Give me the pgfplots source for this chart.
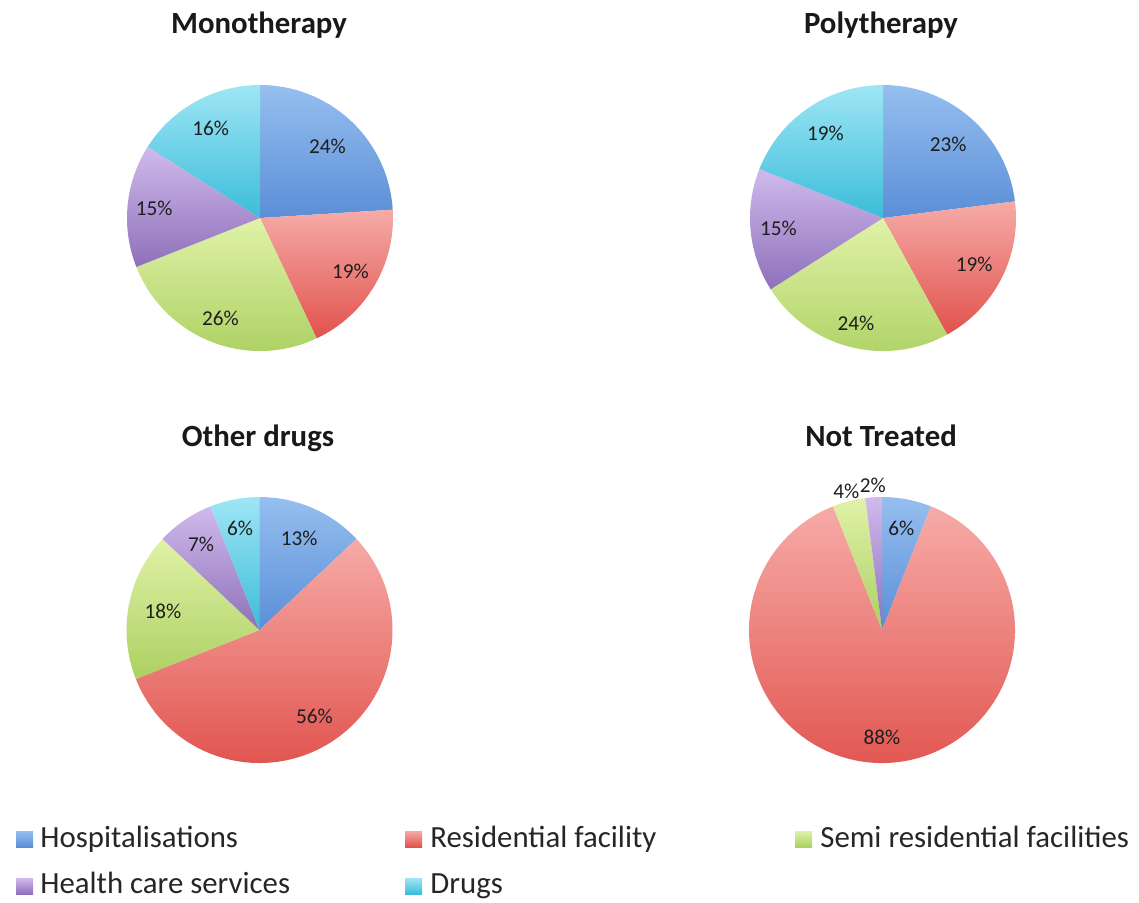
\documentclass[border=0pt]{standalone}
\usepackage{pgfplots}
\pgfplotsset{compat=1.18}
\usepackage{pgfplotstable}
\usepackage{fontspec}
\setmainfont{Carlito}

\definecolor{hospT}{HTML}{96BFF0}\definecolor{hospB}{HTML}{5A8ED6}
\definecolor{resT}{HTML}{F6ABA7}\definecolor{resB}{HTML}{E1524D}
\definecolor{semiT}{HTML}{E0F2A8}\definecolor{semiB}{HTML}{ACD062}
\definecolor{healT}{HTML}{D0BAEC}\definecolor{healB}{HTML}{8E70BA}
\definecolor{drugT}{HTML}{9EE6F5}\definecolor{drugB}{HTML}{3CBCD9}
\definecolor{pcttext}{HTML}{1E1E1E}

% v = share in percent, lr = label distance (fraction of radius)
\pgfplotstableread{
v  lr
24 0.74
19 0.79
26 0.81
15 0.80
16 0.77
}\mono
\pgfplotstableread{
v  lr
23 0.74
19 0.77
24 0.82
15 0.79
19 0.77
}\poly
\pgfplotstableread{
v  lr
13 0.75
56 0.77
18 0.74
7  0.78
6  0.78
}\other
\pgfplotstableread{
v  lr
6  0.78
88 0.81
4  1.08
2  1.09
}\nottreated

\newcommand\slicename[1]{\ifcase#1 hosp\or res\or semi\or heal\or drug\fi}
\def\R{66.5pt}
\newcommand\pctfont{\fontsize{10.6pt}{12pt}\selectfont}

\newcommand\drawpie[1]{%
  \pgfplotstablegetrowsof{#1}\pgfmathtruncatemacro\nrows{\pgfplotsretval-1}%
  \gdef\cum{0}%
  \pgfplotsforeachungrouped \i in {0,...,\nrows}{%
    \pgfplotstablegetelem{\i}{v}\of{#1}\let\v\pgfplotsretval
    \pgfplotstablegetelem{\i}{lr}\of{#1}\let\lr\pgfplotsretval
    \pgfmathsetmacro\aa{90-3.6*\cum}%
    \pgfmathsetmacro\ab{90-3.6*(\cum+\v)}%
    \pgfmathsetmacro\am{(\aa+\ab)/2}%
    \pgfmathsetmacro\xa{cos(\aa)}\pgfmathsetmacro\ya{sin(\aa)}%
    \pgfmathsetmacro\xl{\lr*cos(\am)}\pgfmathsetmacro\yl{\lr*sin(\am)}%
    \pgfmathtruncatemacro\vi{\v}%
    \edef\temp{%
      \noexpand\path[top color=\slicename{\i}T, bottom color=\slicename{\i}B]
        (axis cs:0,0) -- (axis cs:\xa,\ya) arc[start angle=\aa, end angle=\ab, radius=\R] -- cycle;
      \noexpand\node[text=pcttext, inner sep=0pt] at (axis cs:\xl,\yl) {\noexpand\pctfont\vi\noexpand\%};
    }\temp
    \pgfmathsetmacro\newcum{\cum+\v}\global\let\cum\newcum
  }%
}

\pgfplotsset{pie/.style={hide axis, scale only axis, width=133pt, height=133pt,
  xmin=-1, xmax=1, ymin=-1, ymax=1, enlargelimits=false, clip=false, anchor=center}}

\newcommand\titlefont{\fontsize{15.4pt}{18pt}\selectfont\bfseries}
\newcommand\legfont{\fontsize{15.4pt}{18pt}\selectfont}

\begin{document}
\begin{tikzpicture}
\useasboundingbox (0,0) rectangle (569.5pt,-451pt);

\begin{axis}[pie, at={(130pt,-109pt)}]
\drawpie{\mono}
\end{axis}
\begin{axis}[pie, at={(441.5pt,-109pt)}]
\drawpie{\poly}
\end{axis}
\begin{axis}[pie, at={(129.75pt,-315pt)}]
\drawpie{\other}
\end{axis}
\begin{axis}[pie, at={(441pt,-315pt)}]
\drawpie{\nottreated}
\end{axis}

% titles
\node[anchor=base, text=black!90, inner sep=0pt] at (129.5pt,-16.5pt) {\titlefont Monotherapy};
\node[anchor=base, text=black!90, inner sep=0pt] at (440.5pt,-16.5pt) {\titlefont Polytherapy};
\node[anchor=base, text=black!90, inner sep=0pt] at (129pt,-223pt) {\titlefont Other drugs};
\node[anchor=base, text=black!90, inner sep=0pt] at (440.5pt,-223pt) {\titlefont Not Treated};

% legend
\path[top color=hospT, bottom color=hospB] (8pt,-415.5pt) rectangle (16.5pt,-423.5pt);
\node[anchor=base west, inner sep=0pt, text=black!85] at (20pt,-423.5pt) {\legfont Hospitalisations};
\path[top color=resT, bottom color=resB] (202.5pt,-415.5pt) rectangle (211pt,-423.5pt);
\node[anchor=base west, inner sep=0pt, text=black!85] at (215pt,-423.5pt) {\legfont Residential facility};
\path[top color=semiT, bottom color=semiB] (397.5pt,-415.5pt) rectangle (406pt,-423.5pt);
\node[anchor=base west, inner sep=0pt, text=black!85] at (410pt,-423.5pt) {\legfont Semi residential facilities};
\path[top color=healT, bottom color=healB] (8pt,-439pt) rectangle (16.5pt,-447pt);
\node[anchor=base west, inner sep=0pt, text=black!85] at (20pt,-446.8pt) {\legfont Health care services};
\path[top color=drugT, bottom color=drugB] (202.5pt,-439pt) rectangle (211pt,-447pt);
\node[anchor=base west, inner sep=0pt, text=black!85] at (215pt,-446.8pt) {\legfont Drugs};
\end{tikzpicture}
\end{document}
